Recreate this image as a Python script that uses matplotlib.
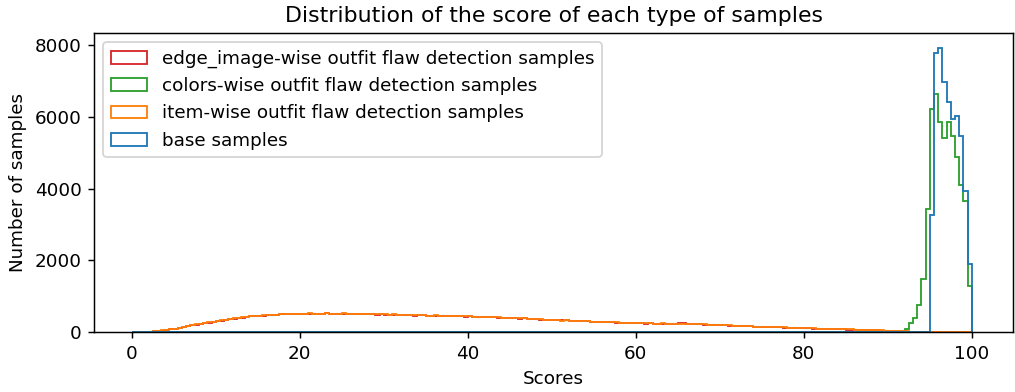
import numpy as np
import matplotlib
matplotlib.use("Agg")
import matplotlib.pyplot as plt

# Score bins: 0.5 wide from 0 to 100
bin_edges = np.arange(0, 100.5, 0.5)
bin_centers = (bin_edges[:-1] + bin_edges[1:]) / 2

series_labels = [
    "edge_image-wise outfit flaw detection samples",
    "colors-wise outfit flaw detection samples",
    "item-wise outfit flaw detection samples",
    "base samples",
]
series_colors = ["#d62728", "#2ca02c", "#ff7f0e", "#1f77b4"]

# Per-bin counts, 10 bins (5 score points) per row
item_counts = [
    0, 2, 6, 12, 20, 30, 42, 55, 68, 82,
    105, 128, 150, 178, 205, 222, 238, 262, 280, 296,
    318, 335, 352, 370, 388, 402, 418, 430, 447, 455,
    462, 470, 478, 488, 495, 500, 506, 512, 518, 515,
    520, 512, 524, 516, 508, 522, 530, 514, 519, 510,
    526, 518, 510, 521, 513, 505, 518, 509, 498, 506,
    496, 488, 500, 482, 490, 477, 485, 470, 478, 472,
    466, 460, 472, 455, 462, 450, 458, 446, 452, 440,
    444, 436, 430, 438, 425, 420, 428, 414, 408, 412,
    400, 395, 388, 392, 378, 372, 366, 360, 352, 346,
    340, 334, 328, 332, 322, 316, 320, 308, 312, 300,
    298, 292, 286, 290, 280, 276, 270, 266, 262, 258,
    262, 255, 248, 252, 244, 240, 246, 238, 234, 240,
    232, 236, 228, 226, 222, 228, 218, 214, 210, 204,
    200, 196, 190, 186, 180, 176, 170, 166, 160, 156,
    152, 150, 146, 142, 138, 134, 130, 126, 122, 120,
    116, 112, 108, 104, 102, 98, 94, 92, 88, 84,
    80, 78, 74, 70, 68, 64, 60, 58, 54, 50,
    46, 40, 36, 30, 26, 20, 16, 12, 8, 6,
    4, 3, 2, 2, 1, 1, 1, 0, 0, 0,
]

edge_image_counts = [
    0, 1, 4, 10, 17, 26, 38, 50, 62, 78,
    96, 120, 146, 170, 196, 214, 232, 255, 272, 290,
    310, 328, 348, 362, 380, 396, 410, 426, 440, 450,
    458, 466, 474, 482, 490, 498, 502, 508, 512, 510,
    516, 508, 518, 512, 504, 516, 524, 510, 514, 506,
    520, 512, 506, 516, 510, 500, 512, 504, 494, 500,
    492, 484, 494, 478, 486, 472, 480, 466, 474, 468,
    462, 456, 466, 450, 458, 446, 452, 442, 446, 436,
    440, 432, 426, 432, 420, 416, 422, 410, 404, 406,
    396, 390, 384, 388, 374, 368, 362, 356, 348, 342,
    336, 330, 340, 336, 318, 322, 316, 304, 306, 296,
    294, 288, 290, 284, 276, 272, 266, 262, 272, 266,
    256, 250, 244, 248, 240, 236, 240, 234, 230, 236,
    250, 246, 224, 222, 218, 224, 214, 210, 206, 200,
    196, 192, 186, 182, 176, 172, 166, 162, 156, 152,
    148, 146, 142, 138, 134, 130, 126, 122, 118, 116,
    112, 108, 104, 100, 98, 94, 90, 88, 84, 80,
    76, 74, 70, 66, 64, 60, 56, 54, 50, 46,
    42, 36, 32, 26, 22, 18, 14, 10, 7, 5,
    3, 2, 2, 1, 1, 1, 0, 0, 0, 0,
]

colors_counts = [0] * 184 + [
    100, 250, 400, 770, 1490, 3440,
    6220, 6640, 5850, 5400, 5870, 5480, 4890, 4110, 3660, 1290,
]

base_counts = [0] * 190 + [
    3280, 7790, 7930, 6980, 6425, 5935, 6010, 5480, 3925, 1890,
]

series_counts = [edge_image_counts, colors_counts, item_counts, base_counts]

dpi = 132
fig, ax = plt.subplots(figsize=(1015 / dpi, 392 / dpi), dpi=dpi)
fig.subplots_adjust(left=94.3 / 1015, right=1013 / 1015,
                    top=1 - 33.3 / 392, bottom=1 - 332.3 / 392)

for counts, label, color in zip(series_counts, series_labels, series_colors):
    ax.hist(bin_centers, bins=bin_edges, weights=counts, histtype="step",
            color=color, label=label, linewidth=1.0)

ax.set_xlim(-4.45, 104.9)
ax.set_title("Distribution of the score of each type of samples")
ax.set_xlabel("Scores")
ax.set_ylabel("Number of samples")
ax.legend(loc="upper left")

fig.savefig("out.png", dpi=dpi)
